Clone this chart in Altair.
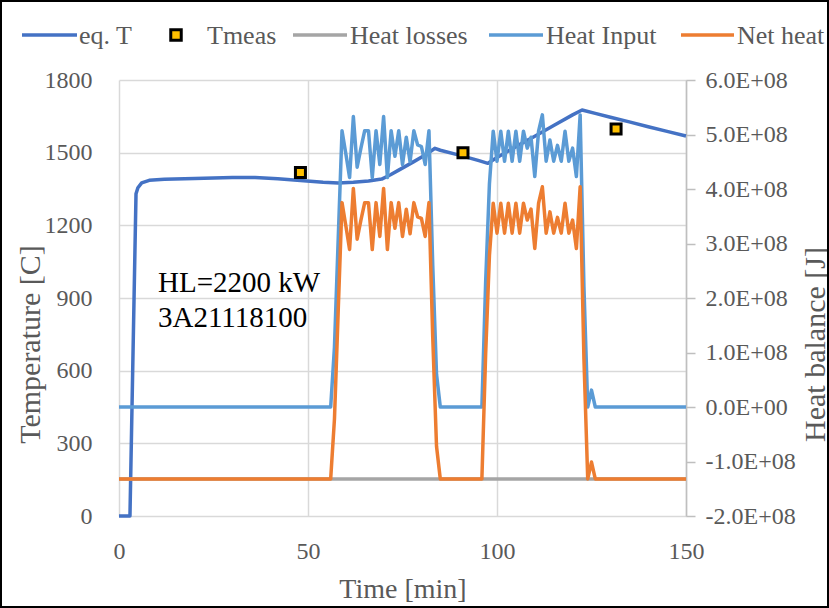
import altair as alt
import pandas as pd

FONT = "Liberation Serif"
TXT = "#595959"
GRID = "#D9D9D9"

# ---------------- data ----------------
eq_time = [0, 2.9, 4.5, 5, 6, 8, 12, 20, 30, 36, 42, 48, 54, 58, 62, 66, 69.5, 71.7,
           74, 78, 81, 83.6, 85, 90, 95, 97.6, 100, 105, 110, 115, 120, 122.5,
           126, 130, 135, 140, 145, 150]
eq_temp = [0, 0, 1330, 1355, 1375, 1386, 1390, 1393, 1397, 1397, 1392, 1385, 1378,
           1375, 1378, 1383, 1391, 1408, 1428, 1463, 1490, 1518, 1510, 1490, 1468,
           1456, 1480, 1525, 1568, 1612, 1656, 1676, 1662, 1646, 1627, 1607, 1588, 1569]

tmeas_time = [48, 91, 131.5]
tmeas_temp = [1418, 1500, 1598]

heat_time = [0, 56, 57, 58, 59, 60, 61, 62, 63, 64, 65, 66, 67, 68, 69, 70, 71, 72,
             73, 74, 75, 76, 77, 78, 79, 80, 81, 82, 83, 84, 85,
             96, 97, 98, 99, 100, 101, 102, 103, 104, 105, 106, 107, 108, 109, 110,
             111, 112, 113, 114, 115, 116, 117, 118, 119, 120, 121, 122, 123, 124,
             125, 126, 150]
heat_input = [0, 0, 1.10e8, 3.10e8, 5.07e8, 4.65e8, 4.21e8, 5.33e8, 4.40e8, 4.75e8,
              5.07e8, 5.07e8, 4.21e8, 5.07e8, 4.45e8, 5.33e8, 4.21e8, 5.07e8, 4.60e8,
              5.07e8, 4.45e8, 4.95e8, 4.50e8, 5.07e8, 4.81e8, 4.78e8, 4.45e8, 5.07e8,
              2.60e8, 0.60e8, 0,
              0, 2.30e8, 4.10e8, 5.06e8, 4.51e8, 5.06e8, 4.51e8, 5.06e8, 4.51e8,
              5.06e8, 4.51e8, 5.06e8, 4.75e8, 4.95e8, 4.23e8, 5.06e8, 5.36e8, 4.51e8,
              4.90e8, 4.51e8, 4.80e8, 4.51e8, 5.06e8, 4.51e8, 4.75e8, 4.23e8, 5.36e8,
              2.20e8, 0, 0.31e8, 0, 0]
net_heat = [-1.32e8, -1.32e8, -0.22e8, 1.78e8, 3.75e8, 3.33e8, 2.89e8, 4.01e8, 3.08e8,
            3.43e8, 3.75e8, 3.75e8, 2.89e8, 3.75e8, 3.13e8, 4.01e8, 2.89e8, 3.75e8,
            3.28e8, 3.75e8, 3.13e8, 3.63e8, 3.18e8, 3.75e8, 3.49e8, 3.46e8, 3.13e8,
            3.75e8, 1.28e8, -0.72e8, -1.32e8,
            -1.32e8, 0.98e8, 2.78e8, 3.74e8, 3.19e8, 3.74e8, 3.19e8, 3.74e8, 3.19e8,
            3.74e8, 3.19e8, 3.74e8, 3.43e8, 3.63e8, 2.91e8, 3.74e8, 4.04e8, 3.19e8,
            3.58e8, 3.19e8, 3.48e8, 3.19e8, 3.74e8, 3.19e8, 3.43e8, 2.91e8, 4.04e8,
            0.88e8, -1.32e8, -1.01e8, -1.32e8, -1.32e8]

loss_time = [0, 150]
heat_losses = [-1.32e8, -1.32e8]

series_names = ["eq. T", "Tmeas", "Heat losses", "Heat Input", "Net heat"]
series_colors = ["#4472C4", "#FFC000", "#A5A5A5", "#5B9BD5", "#ED7D31"]

time_ticks = [0, 50, 100, 150]
temp_ticks = [0, 300, 600, 900, 1200, 1500, 1800]
heat_ticks = [-2e8, -1e8, 0, 1e8, 2e8, 3e8, 4e8, 5e8, 6e8]

notes = ["HL=2200 kW", "3A21118100"]

# ---------------- layout ----------------
W, H = 567, 436
L, T = 119, 80
LW = 3.5

eq_df = pd.DataFrame({"t": eq_time, "T": eq_temp})
tm_df = pd.DataFrame({"t": tmeas_time, "T": tmeas_temp})
in_df = pd.DataFrame({"t": heat_time, "J": heat_input})
net_df = pd.DataFrame({"t": heat_time, "J": net_heat})
loss_df = pd.DataFrame({"t": loss_time, "J": heat_losses})
one = pd.DataFrame({"k": [0]})

x_enc = alt.X(
    "t:Q",
    scale=alt.Scale(domain=[0, 150], nice=False),
    axis=alt.Axis(values=time_ticks, title="Time [min]", grid=True, gridColor=GRID,
                  gridWidth=1.5, domain=False, ticks=False, labelFlush=False,
                  labelFont=FONT, labelFontSize=24, labelColor=TXT,
                  labelPadding=42, labelBaseline="alphabetic",
                  titleFont=FONT, titleFontSize=28, titleColor=TXT,
                  titleFontWeight="normal", titleX=W / 2, titleY=81,
                  titleBaseline="alphabetic"),
)

y_temp = alt.Y(
    "T:Q",
    scale=alt.Scale(domain=[0, 1800], nice=False),
    axis=alt.Axis(values=temp_ticks, title="Temperature [C]", orient="left", format="d",
                  grid=True, gridColor=GRID, gridWidth=1.5, domain=False, ticks=False,
                  labelFont=FONT, labelFontSize=24, labelColor=TXT, labelPadding=27,
                  titleFont=FONT, titleFontSize=30, titleColor=TXT,
                  titleFontWeight="normal", titleX=-89, titleY=264,
                  titleAngle=270, titleBaseline="middle"),
)

y_heat = alt.Y(
    "J:Q",
    scale=alt.Scale(domain=[-2e8, 6e8], nice=False),
    axis=alt.Axis(values=heat_ticks, title="Heat balance [J]", orient="right",
                  grid=False, domain=True, domainColor="#BFBFBF", domainWidth=1.5,
                  ticks=True, tickColor="#BFBFBF", tickSize=9, tickWidth=1.5,
                  labelFont=FONT, labelFontSize=24, labelColor=TXT, labelPadding=10,
                  labelExpr="(datum.value < 0 ? '-' : '') + format(abs(datum.value)/1e8, '.1f') + (datum.value == 0 ? 'E+00' : 'E+08')",
                  titleFont=FONT, titleFontSize=30, titleColor=TXT,
                  titleFontWeight="normal", titleX=129, titleY=264,
                  titleAngle=270, titleBaseline="middle"),
)

eq_line = alt.Chart(eq_df).mark_line(color=series_colors[0], strokeWidth=LW,
                                     strokeJoin="round").encode(x=x_enc, y=y_temp)
tm_pts = alt.Chart(tm_df).mark_square(size=100, fill=series_colors[1], stroke="black",
                                      strokeWidth=3, opacity=1).encode(x=x_enc, y=y_temp)
temp_layer = alt.layer(eq_line, tm_pts)

loss_line = alt.Chart(loss_df).mark_line(color=series_colors[2], strokeWidth=LW).encode(x=x_enc, y=y_heat)
in_line = alt.Chart(in_df).mark_line(color=series_colors[3], strokeWidth=LW,
                                     strokeJoin="round").encode(x=x_enc, y=y_heat)
net_line = alt.Chart(net_df).mark_line(color=series_colors[4], strokeWidth=LW,
                                       strokeJoin="round").encode(x=x_enc, y=y_heat)
heat_layer = alt.layer(loss_line, in_line, net_line)

# ---------------- legend (drawn by hand) ----------------
leg_y = 35 - T
leg_items = [  # (symbol start x, symbol end x, text x) in page pixels
    (22, 77, 79),
    (176, 176, 207),
    (293, 347, 350),
    (489, 543, 546),
    (681, 734, 737),
]
deco = []
for i, (sx0, sx1, tx) in enumerate(leg_items):
    if series_names[i] == "Tmeas":
        deco.append(alt.Chart(one).mark_square(size=110, fill=series_colors[i], stroke="black",
                                               strokeWidth=3, opacity=1)
                    .encode(x=alt.value(sx0 - L), y=alt.value(leg_y)))
    else:
        deco.append(alt.Chart(one).mark_rule(color=series_colors[i], strokeWidth=LW)
                    .encode(x=alt.value(sx0 - L), x2=alt.value(sx1 - L), y=alt.value(leg_y)))
    deco.append(alt.Chart(one).mark_text(align="left", baseline="middle", font=FONT,
                                         fontSize=26, color=TXT)
                .encode(x=alt.value(tx - L), y=alt.value(leg_y + 1),
                        text=alt.value(series_names[i])))

for j, s in enumerate(notes):
    deco.append(alt.Chart(one).mark_text(align="left", baseline="alphabetic", font=FONT,
                                         fontSize=29, color="black")
                .encode(x=alt.value(158 - L), y=alt.value(292 - T + 35 * j),
                        text=alt.value(s)))

deco.append(alt.Chart(one).mark_rect(fillOpacity=0, stroke="black", strokeWidth=2)
            .encode(x=alt.value(1 - L), x2=alt.value(828 - L),
                    y=alt.value(1 - T), y2=alt.value(607 - T)))

chart = (
    alt.layer(temp_layer, heat_layer, *deco)
    .resolve_scale(y="independent")
    .properties(width=W, height=H,
                padding={"left": L, "top": T, "right": 829 - L - W, "bottom": 608 - T - H},
                autosize=alt.AutoSizeParams(type="none"),
                background="white")
    .configure_view(stroke=None)
)

chart.save("out.html", embed_options={"renderer": "svg", "actions": False})
